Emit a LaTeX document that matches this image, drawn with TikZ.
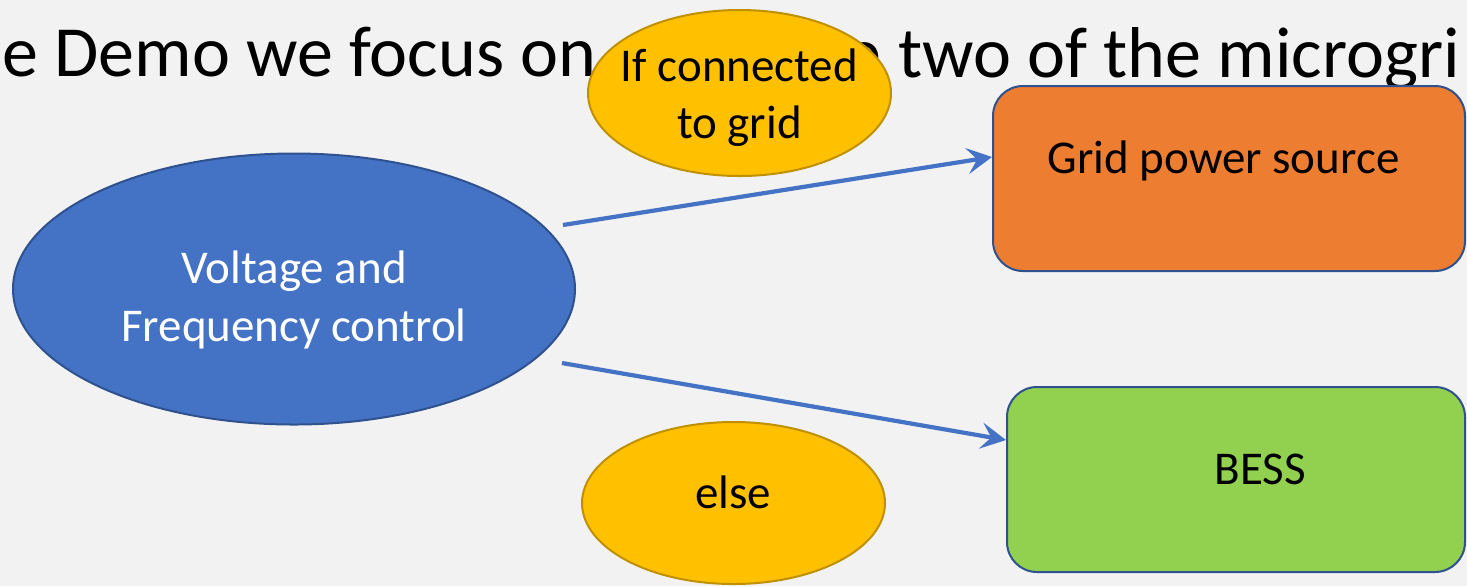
\documentclass[tikz,border=0pt]{standalone}
\usepackage{fontspec}
\setmainfont{Carlito}
\usetikzlibrary{shapes.geometric,arrows.meta}
\definecolor{slidebg}{HTML}{F2F2F2}
\definecolor{accentblue}{HTML}{4472C4}
\definecolor{darkblue}{HTML}{2F528F}
\definecolor{accentorange}{HTML}{ED7D31}
\definecolor{accentgreen}{HTML}{92D050}
\definecolor{accentyellow}{HTML}{FFC000}
\definecolor{darkyellow}{HTML}{BF9000}
\begin{document}
\begin{tikzpicture}[x=0.5pt,y=-0.5pt,
  titletext/.style={font=\fontsize{36}{43}\selectfont, inner sep=0pt},
  bodytext/.style={font=\fontsize{23.5}{28.7}\selectfont},
  ctrlnode/.style={ellipse, draw=darkblue, fill=accentblue, line width=1pt,
    inner sep=0pt, minimum width=281pt, minimum height=135.5pt},
  condnode/.style={ellipse, draw=darkyellow, fill=accentyellow, line width=1pt,
    inner sep=0pt, minimum width=151.5pt},
  sourcebox/.style={rectangle, rounded corners=15pt, draw=darkblue, line width=1pt,
    inner sep=0pt, minimum height=92.5pt},
  flow/.style={draw=accentblue, line width=2.1pt,
    -{Stealth[length=12.5pt,width=13pt,inset=5pt]}}
]
% slide background and page frame
\fill[slidebg] (0,0) rectangle (1467,586);
\useasboundingbox (0,0) rectangle (1467,586);

% heading line, cut by the slide edges
\node[titletext, anchor=base west] (titleL) at (2,76) {e Demo we focus on};
\node[titletext, anchor=base west] (titleR) at (898,77) {two of the microgri};
\node[titletext, anchor=base east] (titleE) at ([xshift=-8.1pt]titleR.base west) {e};

% controller
\node[ctrlnode] (ctrl) at (294,289) {};
\node[bodytext, text=white, align=center] (ctrltext) at (294,300)
  {Voltage and\\Frequency control};

% power sources
\node[sourcebox, fill=accentorange, minimum width=236pt] (grid) at (1229,178.5) {};
\node[bodytext, anchor=base, inner sep=0pt] (gridtext) at (1223.5,173) {Grid power source};
\node[sourcebox, fill=accentgreen, minimum width=229pt] (bess) at (1236,479.5) {};
\node[bodytext, anchor=base, inner sep=0pt] (besstext) at (1260.5,484) {BESS};

% conditions
\node[condnode, minimum height=83pt] (ifgrid) at (739.5,93) {};
\node[bodytext, align=center] (ifgridtext) at (739.5,98) {If connected\\to grid};
\node[condnode, minimum height=81pt] (elsecond) at (733.5,503) {};
\node[bodytext, anchor=base, inner sep=0pt] (elsetext) at (733,508) {else};

% control flow
\coordinate (s1) at (563,225);
\coordinate (s2) at (562,363);
\draw[flow] (s1) -- ([yshift=10.75pt]grid.west);
\draw[flow] (s2) -- ([yshift=19.75pt]bess.west);
\end{tikzpicture}
\end{document}
